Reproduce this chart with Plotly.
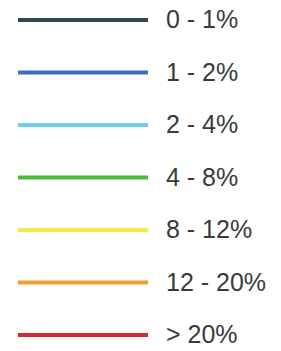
import plotly.graph_objects as go

labels = ["0 - 1%", "1 - 2%", "2 - 4%", "4 - 8%", "8 - 12%", "12 - 20%", "> 20%"]
colors = ["#2d4858", "#3a6cc0", "#6ecbeb", "#4dbb38", "#eeec45", "#eca032", "#d42a35"]

W, H = 281, 351
LINE_X0, LINE_X1, TEXT_X = 18, 148, 166
TOP, STEP = 20, 52.5

fig = go.Figure()
for i, (lab, col) in enumerate(zip(labels, colors)):
    fig.add_trace(go.Scatter(
        x=[LINE_X0, LINE_X1], y=[i, i], mode="lines",
        line=dict(color=col, width=4), showlegend=False, hoverinfo="skip"))
fig.add_trace(go.Scatter(
    x=[TEXT_X] * len(labels), y=[i + 0.04 for i in range(len(labels))],
    mode="text", text=labels, textposition="middle right",
    textfont=dict(family="Liberation Sans, Arial", size=25, color="#3a3a3a"),
    showlegend=False, hoverinfo="skip"))

y0 = -TOP / STEP
y1 = (H - TOP) / STEP
fig.update_layout(
    width=W, height=H, margin=dict(l=0, r=0, t=0, b=0),
    paper_bgcolor="white", plot_bgcolor="white",
    xaxis=dict(range=[0, W], visible=False, fixedrange=True),
    yaxis=dict(range=[y1, y0], visible=False, fixedrange=True),
)
fig.write_html("out.html", config={"displayModeBar": False},
               post_script="document.body.style.margin='0';document.body.style.overflow='hidden';")
